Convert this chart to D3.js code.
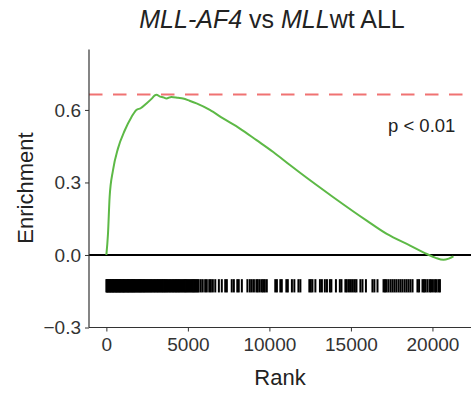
<!DOCTYPE html>
<html>
<head>
<meta charset="utf-8">
<script src="https://cdn.jsdelivr.net/npm/d3@7"></script>
<style>
  html, body { margin: 0; padding: 0; background: #fff; }
  svg { display: block; font-family: "Liberation Sans", Arial, Helvetica, sans-serif; }
</style>
</head>
<body>
<svg id="chart" width="472" height="399"></svg>
<script>
// Running enrichment score along the ranked gene list
const curveRanks = [0, 100, 200, 405, 710, 1125, 1535, 1840, 2100, 2460, 2800, 2970, 3070, 3300, 3500, 3685, 3990, 4400, 4700, 5100, 5530, 6345, 7160, 8190, 9210, 10235, 11260, 11880, 13920, 15970, 17200, 18630, 19660, 20200, 20680, 21000, 21290];
const curveScores = [0, 0.088, 0.24, 0.35, 0.44, 0.515, 0.57, 0.60, 0.607, 0.627, 0.648, 0.66, 0.663, 0.655, 0.652, 0.647, 0.654, 0.65, 0.647, 0.638, 0.627, 0.60, 0.565, 0.523, 0.475, 0.426, 0.372, 0.34, 0.239, 0.142, 0.087, 0.039, 0.004, -0.012, -0.02, -0.015, -0.006];

// Ranks of the gene-set members (barcode)
const hitRanks = [
  0, 40, 90, 130, 180, 230, 270, 320, 370, 410, 460, 510, 560, 600, 650, 700, 750, 790, 840, 890,
  940, 990, 1030, 1080, 1130, 1180, 1230, 1280, 1330, 1380, 1430, 1480, 1530, 1580, 1630, 1690, 1740, 1790, 1850, 1900,
  1960, 2010, 2070, 2120, 2180, 2240, 2300, 2350, 2410, 2470, 2530, 2590, 2650, 2710, 2770, 2830, 2900, 2960, 3020, 3090,
  3150, 3210, 3280, 3340, 3410, 3470, 3540, 3600, 3670, 3730, 3800, 3870, 3930, 4000, 4070, 4130, 4200, 4270, 4340, 4410,
  4470, 4540, 4610, 4680, 4750, 4820, 4890, 4960, 5030, 5100, 5170, 5240, 5310, 5380, 5450, 5520, 5590, 5660,
  5790, 5910, 6060, 6160, 6310, 6410, 6530, 6680, 6900, 7080, 7290, 7390, 7690, 7820, 8030, 8120, 8310, 8650,
  8800, 8920, 9050, 9200, 9290, 9410, 9540, 9630, 9720, 9840, 10360, 10460, 10670, 10760, 11040, 11130, 11380, 11530,
  11780, 11900, 12450, 12540, 12640, 12820, 13100, 13220, 13400, 13530, 13710, 13800, 14080, 14320, 14420,
  14660, 14750, 14880, 15000, 15120, 15240, 15340, 15580, 15710, 15920, 16320, 16440, 16630,
  17000, 17090, 17180, 17300, 17430, 17550, 17670, 17790, 17920, 18040, 18160, 18290, 18410, 18530, 18650, 18780,
  19080, 19180, 19390, 19480, 19570, 19690, 19820, 19910, 20030, 20160, 20250, 20370, 20460
];

const maxScore = 0.664;
const xTicks = [0, 5000, 10000, 15000, 20000];
const yTicks = [-0.3, 0.0, 0.3, 0.6];
const barcodeTop = -0.1, barcodeBottom = -0.155;

const svg = d3.select("#chart");
const plotLeft = 89, plotRight = 471, plotTop = 49.5, plotBottom = 327.5;

const x = d3.scaleLinear().domain([-1065, 22365]).range([plotLeft, plotRight]);
const y = d3.scaleLinear().domain([-0.3, 0.85]).range([plotBottom, plotTop]);

const axisColor = "#333";

// Barcode of gene-set members
svg.append("g").selectAll("line").data(hitRanks).join("line")
  .attr("x1", d => x(d)).attr("x2", d => x(d))
  .attr("y1", y(barcodeTop)).attr("y2", y(barcodeBottom))
  .attr("stroke", "#000").attr("stroke-width", 2);

// Zero reference line
svg.append("line")
  .attr("x1", plotLeft).attr("x2", plotRight)
  .attr("y1", y(0)).attr("y2", y(0))
  .attr("stroke", "#000").attr("stroke-width", 2);

// Maximum enrichment line
svg.append("line")
  .attr("x1", plotLeft).attr("x2", plotRight)
  .attr("y1", y(maxScore)).attr("y2", y(maxScore))
  .attr("stroke", "#f07272").attr("stroke-width", 2)
  .attr("stroke-dasharray", "13.5,10.5");

// Running enrichment curve
const pts = curveRanks.map((r, i) => [r, curveScores[i]]);
svg.append("path").datum(pts)
  .attr("fill", "none")
  .attr("stroke", "#5db946")
  .attr("stroke-width", 2)
  .attr("stroke-linejoin", "round")
  .attr("d", d3.line().curve(d3.curveMonotoneX).x(d => x(d[0])).y(d => y(d[1])));

// Axes
const xAxis = svg.append("g").attr("transform", `translate(0,${plotBottom})`)
  .call(d3.axisBottom(x).tickValues(xTicks).tickFormat(d3.format("d")).tickSizeOuter(0).tickSize(4).tickPadding(6));
const yAxis = svg.append("g").attr("transform", `translate(${plotLeft},0)`)
  .call(d3.axisLeft(y).tickValues(yTicks).tickFormat(d3.format(".1f")).tickSizeOuter(0).tickSize(4).tickPadding(4));

[xAxis, yAxis].forEach(g => {
  g.select(".domain").attr("stroke", axisColor).attr("stroke-width", 1.2);
  g.selectAll(".tick line").attr("stroke", axisColor).attr("stroke-width", 1);
  g.selectAll(".tick text").attr("fill", "#333").style("font-size", "19px")
    .style("font-family", "Liberation Sans, Arial, sans-serif");
});
yAxis.selectAll(".tick text").text(d => d < 0 ? "\u2212" + Math.abs(d).toFixed(1) : d.toFixed(1));
// axis lines span the whole panel
yAxis.select(".domain").attr("d", `M0,${plotBottom}V${plotTop}`);
xAxis.select(".domain").attr("d", `M${plotLeft},0H${plotRight}`);

// Title with italic gene names
const title = svg.append("text")
  .attr("x", 272).attr("y", 28)
  .attr("text-anchor", "middle")
  .attr("fill", "#222")
  .style("font-size", "25px");
title.append("tspan").style("font-style", "italic").text("MLL-AF4");
title.append("tspan").text(" vs ");
title.append("tspan").style("font-style", "italic").text("MLL");
title.append("tspan").text("wt ALL");

// Axis titles
svg.append("text")
  .attr("x", 280).attr("y", 385)
  .attr("text-anchor", "middle")
  .attr("fill", "#222")
  .style("font-size", "22px")
  .text("Rank");

svg.append("text")
  .attr("transform", "translate(33,188) rotate(-90)")
  .attr("text-anchor", "middle")
  .attr("fill", "#222")
  .style("font-size", "22px")
  .text("Enrichment");

// Significance annotation
svg.append("text")
  .attr("x", 388).attr("y", 131.5)
  .attr("fill", "#222")
  .style("font-size", "18.5px")
  .text("p < 0.01");
</script>
</body>
</html>
